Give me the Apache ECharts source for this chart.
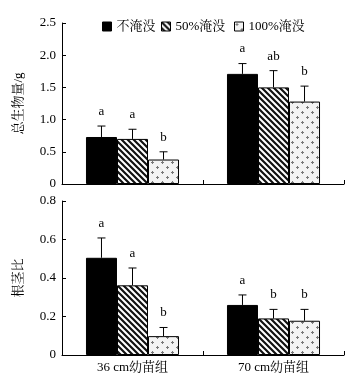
<!DOCTYPE html>
<html><head><meta charset="utf-8">
<script src="https://cdn.jsdelivr.net/npm/echarts@6/dist/echarts.min.js"></script>
<style>html,body{margin:0;padding:0;background:#fff}#c{width:358px;height:378px}</style>
</head><body><div id="c"></div>
<script>
var categories = ['36 cm幼苗组', '70 cm幼苗组'];
var seriesNames = ['不淹没', '50%淹没', '100%淹没'];
// total biomass (g)
var biomass = [[0.73, 1.71], [0.70, 1.50], [0.38, 1.28]];
var biomassErr = [[0.17, 0.16], [0.15, 0.26], [0.12, 0.24]];
var biomassLetters = [['a', 'a'], ['a', 'ab'], ['b', 'b']];
// root/shoot ratio
var ratio = [[0.505, 0.26], [0.362, 0.19], [0.098, 0.178]];
var ratioErr = [[0.103, 0.052], [0.09, 0.047], [0.045, 0.059]];
var ratioLetters = [['a', 'a'], ['a', 'b'], ['b', 'b']];
var biomassTicks = {min: 0, max: 2.5, interval: 0.5};
var ratioTicks = {min: 0, max: 0.8, interval: 0.2};

var FONT = "'Liberation Serif','Noto Serif CJK SC','Noto Sans CJK SC',serif";

function hatchCanvas() {
  var c = document.createElement('canvas'); c.width = 6; c.height = 6;
  var g = c.getContext('2d');
  g.fillStyle = '#fff'; g.fillRect(0, 0, 6, 6);
  g.strokeStyle = '#111'; g.lineWidth = 2.2;
  g.beginPath();
  g.moveTo(-3, -3); g.lineTo(9, 9);
  g.moveTo(-3, 3); g.lineTo(3, 9);
  g.moveTo(3, -3); g.lineTo(9, 3);
  g.stroke();
  return c;
}
function dotCanvas() {
  var c = document.createElement('canvas'); c.width = 10; c.height = 10;
  var g = c.getContext('2d');
  g.fillStyle = '#f3f3f3'; g.fillRect(0, 0, 10, 10);
  g.fillStyle = '#777';
  g.fillRect(1, 2, 3, 1); g.fillRect(2, 1, 1, 3);
  g.fillRect(6, 7, 3, 1); g.fillRect(7, 6, 1, 3);
  return c;
}
var fills = ['#000', {image: hatchCanvas(), repeat: 'repeat'}, {image: dotCanvas(), repeat: 'repeat'}];

var BW = 0.22;
var series = [];
function addPanel(vals, errs, letters, idx) {
  for (var s = 0; s < 3; s++) {
    series.push({
      type: 'bar', name: seriesNames[s], xAxisIndex: idx, yAxisIndex: idx,
      data: vals[s], barWidth: (BW * 100) + '%', barGap: '0%',
      itemStyle: {color: fills[s], borderColor: '#000', borderWidth: 1},
      z: 2
    });
  }
  var data = [];
  for (var s2 = 0; s2 < 3; s2++) for (var k = 0; k < 2; k++)
    data.push([k, vals[s2][k], errs[s2][k], s2, letters[s2][k]]);
  series.push({
    type: 'custom', xAxisIndex: idx, yAxisIndex: idx, z: 5,
    data: data,
    renderItem: function (params, api) {
      var k = api.value(0), v = api.value(1), e = api.value(2), s = api.value(3);
      var band = api.size([1, 0])[0];
      var base = api.coord([k, v]);
      var x = base[0] + (s - 1) * BW * band;
      var top = api.coord([k, v + e])[1];
      var letter = data[params.dataIndex][4];
      return {type: 'group', children: [
        {type: 'line', shape: {x1: x, y1: base[1], x2: x, y2: top}, style: {stroke: '#000', lineWidth: 1}},
        {type: 'line', shape: {x1: x - 4, y1: top, x2: x + 4, y2: top}, style: {stroke: '#000', lineWidth: 1}},
        {type: 'text', style: {text: letter, x: x, y: top - 8, textAlign: 'center', textVerticalAlign: 'bottom',
          font: '13px ' + FONT, fill: '#000'}}
      ]};
    }
  });
}
addPanel(biomass, biomassErr, biomassLetters, 0);
addPanel(ratio, ratioErr, ratioLetters, 1);

function fmt(v) { return v === 0 ? '0' : v.toFixed(1); }
var axisLine = {show: true, lineStyle: {color: '#000', width: 1}};
function yAxis(t, name, idx) {
  return {type: 'value', gridIndex: idx, min: t.min, max: t.max, interval: t.interval,
    name: name, nameLocation: 'middle', nameGap: 37, nameRotate: 90,
    nameTextStyle: {fontFamily: FONT, fontSize: 13, color: '#000'},
    axisLine: axisLine, axisTick: {show: true, inside: true, length: 4, lineStyle: {color: '#000'}},
    axisLabel: {formatter: fmt, fontFamily: FONT, fontSize: 13, color: '#000', margin: 6},
    splitLine: {show: false}};
}
function xAxis(idx, showLabel) {
  return {type: 'category', gridIndex: idx, data: categories,
    axisLine: axisLine, axisTick: {show: true, inside: true, length: 4, lineStyle: {color: '#000'}},
    axisLabel: {show: showLabel, fontFamily: FONT, fontSize: 13, color: '#000', margin: 6}};
}
var legendLefts = [97, 156, 229];
var legends = seriesNames.map(function (n, i) {
  return {data: [n], left: legendLefts[i], top: 15, itemWidth: 9, itemHeight: 9, itemGap: 0,
    textStyle: {fontFamily: FONT, fontSize: 13, color: '#000', padding: [0, 0, 0, 0]}, icon: 'rect',
    itemStyle: {borderColor: '#000', borderWidth: 1}};
});

var chart = echarts.init(document.getElementById('c'), null, {renderer: 'canvas'});
chart.setOption({
  animation: false,
  legend: legends,
  grid: [
    {left: 62, right: 14, top: 23, height: 161},
    {left: 62, right: 14, top: 201, height: 154}
  ],
  xAxis: [xAxis(0, false), xAxis(1, true)],
  yAxis: [yAxis(biomassTicks, '总生物量/g', 0), yAxis(ratioTicks, '根茎比', 1)],
  series: series
});
</script></body></html>
